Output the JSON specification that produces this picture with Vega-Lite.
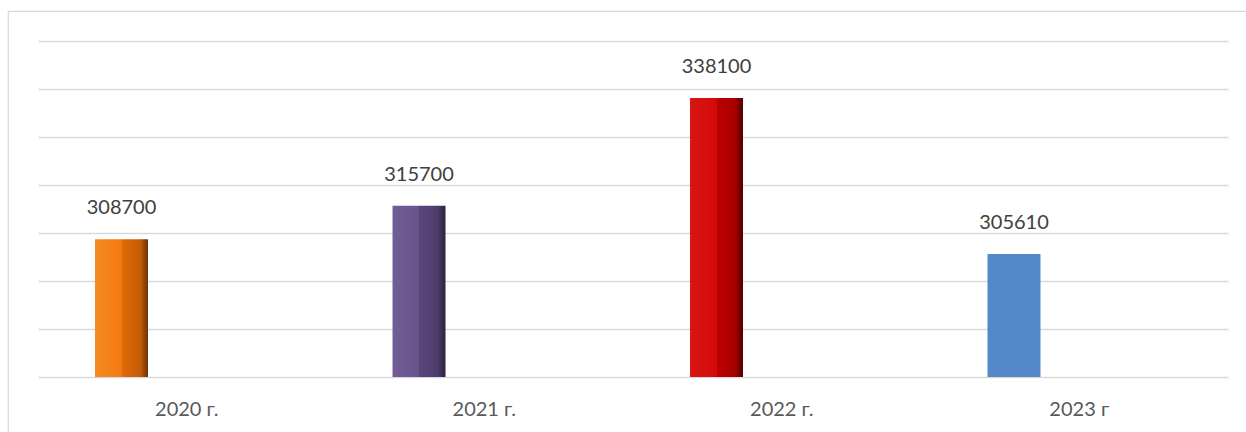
{
  "$schema": "https://vega.github.io/schema/vega-lite/v6.json",
  "autosize": {"type": "none"},
  "padding": {"left": 8, "top": 11, "right": -6, "bottom": -6},
  "width": 1244,
  "height": 427,
  "background": "white",
  "config": {
    "view": {"stroke": "#d9d9d9", "strokeWidth": 1.2},
    "font": "Lato"
  },
  "data": {
    "values": [
      {"year": "2020 г.", "series": "Ряд 1", "value": 308700},
      {"year": "2021 г.", "series": "Ряд 1", "value": 315700},
      {"year": "2022 г.", "series": "Ряд 1", "value": 338100},
      {"year": "2023 г", "series": "Ряд 1", "value": 305610}
    ]
  },
  "encoding": {
    "x": {
      "field": "year", "type": "nominal", "sort": null,
      "scale": {"domain": ["2020 г.", "2021 г.", "2022 г.", "2023 г"], "range": [30, 1220], "paddingInner": 0, "paddingOuter": 0},
      "axis": {"title": null, "labelAngle": 0, "ticks": false, "domain": false, "offset": -61, "labelPadding": 22, "labelFontSize": 20, "labelColor": "#595959", "labelFont": "Lato"}
    },
    "xOffset": {
      "field": "series", "type": "nominal",
      "scale": {"domain": ["Ряд 1", "Ряд 2"], "paddingInner": 0.594, "paddingOuter": 0.437}
    },
    "y": {
      "field": "value", "type": "quantitative",
      "scale": {"domain": [280000, 350000], "range": [366, 30], "zero": false, "nice": false},
      "axis": {"title": null, "labels": false, "ticks": false, "domain": false, "values": [280000, 290000, 300000, 310000, 320000, 330000, 340000, 350000], "grid": true, "gridColor": "#d9d9d9", "gridWidth": 1.4}
    },
    "y2": {"datum": 280000}
  },
  "layer": [
    {
      "transform": [{"filter": "datum.year === '2020 г.'"}],
      "mark": {"type": "bar", "color": {"gradient": "linear", "x1": 0, "x2": 1, "y1": 0, "y2": 0, "stops": [
        {"offset": 0, "color": "#F68A22"}, {"offset": 0.5, "color": "#F47B12"}, {"offset": 0.5, "color": "#DF6B08"}, {"offset": 0.85, "color": "#C75C05"}, {"offset": 1, "color": "#6E3003"}]}}
    },
    {
      "transform": [{"filter": "datum.year === '2021 г.'"}],
      "mark": {"type": "bar", "color": {"gradient": "linear", "x1": 0, "x2": 1, "y1": 0, "y2": 0, "stops": [
        {"offset": 0, "color": "#735D98"}, {"offset": 0.5, "color": "#68548D"}, {"offset": 0.5, "color": "#5A467C"}, {"offset": 0.85, "color": "#4E3C6C"}, {"offset": 1, "color": "#2A203C"}]}}
    },
    {
      "transform": [{"filter": "datum.year === '2022 г.'"}],
      "mark": {"type": "bar", "color": {"gradient": "linear", "x1": 0, "x2": 1, "y1": 0, "y2": 0, "stops": [
        {"offset": 0, "color": "#DA1515"}, {"offset": 0.5, "color": "#D30A0A"}, {"offset": 0.5, "color": "#BE0000"}, {"offset": 0.85, "color": "#A70000"}, {"offset": 1, "color": "#520000"}]}}
    },
    {
      "transform": [{"filter": "datum.year === '2023 г'"}],
      "mark": {"type": "bar", "color": "#5588C9"}
    },
    {
      "mark": {"type": "text", "dy": -31, "fontSize": 20, "color": "#404040", "font": "Lato", "baseline": "middle"},
      "encoding": {"text": {"field": "value", "type": "quantitative", "format": "d"}, "y2": null}
    }
  ]
}
